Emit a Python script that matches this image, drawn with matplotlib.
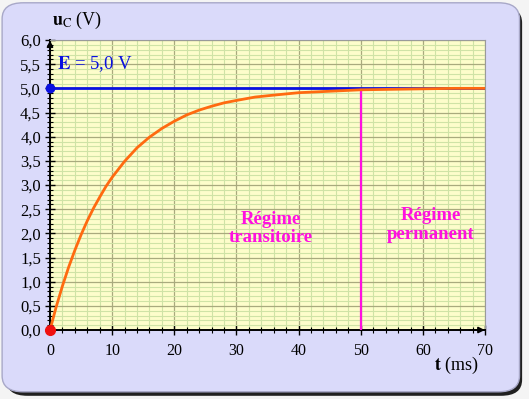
import matplotlib
matplotlib.use("Agg")
import matplotlib.pyplot as plt
from matplotlib.patches import FancyBboxPatch
import numpy as np

# ---- data ----
t_ms = [0, 1, 2, 3, 4, 5, 6, 7, 8, 9, 10, 12, 14, 16, 18, 20, 22, 24, 26, 28,
        30, 33, 36, 40, 45, 50, 55, 60, 65, 70]
u_c = [0.0, 0.48, 0.91, 1.30, 1.65, 1.97, 2.26, 2.52, 2.75, 2.97, 3.16, 3.49,
       3.77, 3.99, 4.17, 4.32, 4.45, 4.55, 4.63, 4.70, 4.75, 4.82, 4.86, 4.91,
       4.94, 4.97, 4.98, 4.99, 5.0, 5.0]
E = 5.0
t_switch = 50
u_switch = 4.97
y_ticks = [0, 0.5, 1, 1.5, 2, 2.5, 3, 3.5, 4, 4.5, 5, 5.5, 6]
y_tick_labels = ["0,0", "0,5", "1,0", "1,5", "2,0", "2,5", "3,0", "3,5",
                 "4,0", "4,5", "5,0", "5,5", "6,0"]
x_ticks = [0, 10, 20, 30, 40, 50, 60, 70]
x_tick_labels = ["0", "10", "20", "30", "40", "50", "60", "70"]

plt.rcParams['font.family'] = ['Liberation Serif', 'DejaVu Serif']
plt.rcParams['mathtext.fontset'] = 'stix'

fig = plt.figure(figsize=(5.29, 3.99), dpi=100)
fig.patch.set_facecolor('#F4F4F4')

# rounded panel with shadow
shadow = FancyBboxPatch((0.012, 0.008), 0.975, 0.975,
                        boxstyle="round,pad=0,rounding_size=0.04",
                        transform=fig.transFigure, facecolor='#202020',
                        edgecolor='none', zorder=0)
panel = FancyBboxPatch((0.004, 0.018), 0.978, 0.975,
                       boxstyle="round,pad=0,rounding_size=0.04",
                       transform=fig.transFigure, facecolor='#DADAFA',
                       edgecolor='#A8A8C8', linewidth=1.0, zorder=1)
fig.patches.extend([shadow, panel])

ax = fig.add_axes([0.0945, 0.1729, 0.8225, 0.7268])
ax.set_zorder(2)
ax.set_facecolor('#FDFDCB')
ax.set_xlim(0, 70)
ax.set_ylim(0, 6)

# grid
ax.set_xticks(x_ticks)
ax.set_xticklabels(x_tick_labels)
ax.set_yticks(y_ticks)
ax.set_yticklabels(y_tick_labels)
ax.set_xticks(np.arange(0, 71, 2), minor=True)
ax.set_yticks(np.arange(0, 6.01, 0.1), minor=True)
ax.grid(which='minor', color='#CFE3A6', linewidth=0.8)
ax.grid(which='major', color='#A9AA7E', linewidth=0.9)
ax.set_axisbelow(True)

ax.tick_params(axis='both', which='major', direction='inout', length=7,
               width=1.0, labelsize=11.5, colors='black')
ax.tick_params(axis='both', which='minor', direction='inout', length=4,
               width=0.8, colors='black')
ax.tick_params(axis='x', which='major', pad=6)
ax.tick_params(axis='y', which='major', pad=3, labelsize=12)

for s in ['top', 'right']:
    ax.spines[s].set_color('#9A9A9A')
    ax.spines[s].set_linewidth(0.8)
for s in ['left', 'bottom']:
    ax.spines[s].set_color('black')
    ax.spines[s].set_linewidth(1.4)

# axis arrows
ax.annotate('', xy=(0, 6.05), xytext=(0, 5.7),
            arrowprops=dict(arrowstyle='-|>', color='black', lw=1.2,
                            mutation_scale=9), annotation_clip=False)
ax.annotate('', xy=(70.4, 0), xytext=(67, 0),
            arrowprops=dict(arrowstyle='-|>', color='black', lw=1.2,
                            mutation_scale=9), annotation_clip=False)

# lines
ax.plot([0, 70], [E, E], color='#0A10E0', linewidth=2.0, zorder=3,
        solid_capstyle='butt')
ax.plot(t_ms, u_c, color='#FF6A10', linewidth=2.0, zorder=4)
ax.plot([t_switch, t_switch], [0, u_switch], color='#FF10E0', linewidth=1.6,
        zorder=3)
ax.plot([0], [E], 'o', color='#0A10E0', markersize=6, zorder=6, clip_on=False)
ax.plot([0], [0], 'o', color='#F01010', markersize=7, zorder=6, clip_on=False)

# texts
ax.text(1.2, 5.5, r'$\mathbf{E}$ = 5,0 V', color='#0A10E0', fontsize=13.5,
        va='center', ha='left', zorder=5)
ax.text(35.6, 2.1, 'Régime\ntransitoire', color='#FF10E0', fontsize=13.5,
        fontweight='bold', ha='center', va='center', linespacing=1.12, zorder=5)
ax.text(61.3, 2.17, 'Régime\npermanent', color='#FF10E0', fontsize=13.5,
        fontweight='bold', ha='center', va='center', linespacing=1.12, zorder=5)

fig.text(0.098, 0.948, r'$\mathbf{u}_{\mathrm{C}}$ (V)', fontsize=13,
         ha='left', va='center', color='black', zorder=5)
fig.text(0.905, 0.085, r'$\mathbf{t}$ (ms)', fontsize=13,
         ha='right', va='center', color='black', zorder=5)

fig.savefig('out.png', dpi=100, facecolor=fig.get_facecolor())
